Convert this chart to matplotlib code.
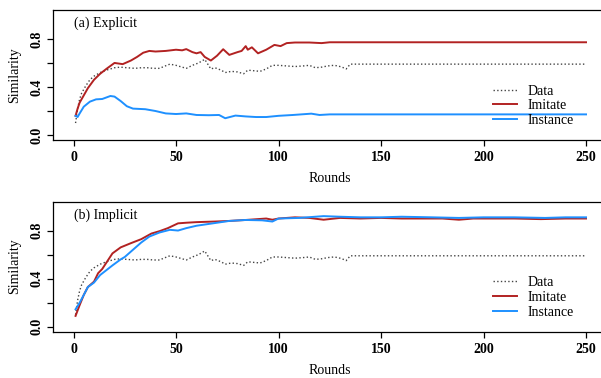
import matplotlib
matplotlib.use("Agg")
import matplotlib.pyplot as plt

plt.rcParams['font.family'] = ['Liberation Serif', 'DejaVu Serif']

# Data curve (same in both panels)
data_rounds = [1, 2, 3, 4, 6, 8, 10, 13, 16, 20, 23, 26, 30, 33, 36, 39, 42, 44, 47, 50,
               52, 55, 58, 61, 64, 67, 69, 72, 74, 77, 80, 83, 85, 88, 91, 94, 97, 100, 104, 108,
               112, 115, 118, 121, 124, 127, 129, 131, 133, 135, 150, 175, 200, 225, 250]
data_vals = [0.10, 0.22, 0.30, 0.35, 0.41, 0.46, 0.49, 0.52, 0.54, 0.56,
             0.565, 0.56, 0.555, 0.56, 0.56, 0.555, 0.555, 0.57, 0.59, 0.58,
             0.57, 0.555, 0.58, 0.60, 0.63, 0.55, 0.56, 0.54, 0.52, 0.53,
             0.525, 0.51, 0.54, 0.535, 0.53, 0.55, 0.58, 0.58, 0.575, 0.57,
             0.575, 0.58, 0.56, 0.565, 0.575, 0.58, 0.575, 0.565, 0.55, 0.59,
             0.59, 0.59, 0.59, 0.59, 0.59]

# (a) Explicit
imit_a_rounds = [1, 2, 3, 5, 7, 10, 13, 16, 20, 24, 28, 31, 34, 37, 40, 45, 50, 53, 55, 58,
                 60, 62, 64, 67, 70, 73, 76, 80, 82, 84, 85, 87, 90, 94, 98, 101, 104, 108, 115, 121,
                 125, 150, 175, 200, 225, 250]
imit_a = [0.16, 0.22, 0.27, 0.33, 0.39, 0.46, 0.51, 0.55, 0.60, 0.59,
          0.62, 0.65, 0.685, 0.70, 0.695, 0.70, 0.71, 0.705, 0.715, 0.69,
          0.68, 0.69, 0.65, 0.62, 0.66, 0.714, 0.667, 0.69, 0.70, 0.74,
          0.71, 0.73, 0.68, 0.71, 0.75, 0.74, 0.765, 0.77, 0.77, 0.765,
          0.772, 0.772, 0.772, 0.772, 0.772, 0.772]
inst_a_rounds = [1, 2, 3, 5, 8, 11, 14, 18, 20, 23, 26, 29, 35, 40, 45, 50, 55, 60, 66, 71,
                 74, 79, 84, 89, 94, 100, 107, 116, 120, 125, 150, 175, 200, 225, 250]
inst_a = [0.16, 0.15, 0.18, 0.236, 0.278, 0.297, 0.30, 0.325, 0.32, 0.283,
          0.24, 0.22, 0.215, 0.20, 0.18, 0.175, 0.18, 0.167, 0.165, 0.167,
          0.14, 0.162, 0.155, 0.15, 0.15, 0.16, 0.167, 0.178, 0.167, 0.172,
          0.172, 0.172, 0.172, 0.172, 0.172]

# (b) Implicit
imit_b_rounds = [1, 3, 5, 7, 10, 12, 14, 19, 23, 28, 33, 38, 42, 46, 51, 55, 60, 69, 76, 84,
                 94, 97, 100, 108, 115, 122, 130, 140, 150, 160, 170, 180, 188, 195, 205, 215, 228, 240, 250]
imit_b = [0.09, 0.18, 0.264, 0.33, 0.375, 0.445, 0.48, 0.61, 0.66, 0.695,
          0.728, 0.775, 0.795, 0.82, 0.86, 0.865, 0.87, 0.875, 0.88, 0.888,
          0.90, 0.89, 0.90, 0.91, 0.905, 0.89, 0.905, 0.90, 0.905, 0.90,
          0.90, 0.90, 0.89, 0.90, 0.90, 0.90, 0.895, 0.90, 0.90]
inst_b_rounds = [1, 3, 5, 7, 10, 13, 16, 19, 23, 25, 29, 33, 37, 42, 47, 51, 55, 60, 68, 76,
                 84, 92, 97, 100, 110, 122, 130, 140, 150, 160, 175, 188, 200, 215, 230, 240, 250]
inst_b = [0.145, 0.20, 0.264, 0.33, 0.367, 0.43, 0.47, 0.51, 0.56, 0.58,
          0.64, 0.70, 0.75, 0.784, 0.806, 0.80, 0.82, 0.84, 0.86, 0.88,
          0.888, 0.885, 0.875, 0.90, 0.905, 0.92, 0.915, 0.91, 0.91, 0.915,
          0.91, 0.905, 0.91, 0.91, 0.905, 0.91, 0.91]

panels = [
    ("(a) Explicit", imit_a_rounds, imit_a, inst_a_rounds, inst_a),
    ("(b) Implicit", imit_b_rounds, imit_b, inst_b_rounds, inst_b),
]

fig = plt.figure(figsize=(6.01, 3.78), dpi=100)
bottoms = [0.630, 0.123]

for (title, ir, iv, sr, sv), b in zip(panels, bottoms):
    ax = fig.add_axes([0.0882, b, 0.921, 0.3434])
    ax.plot(data_rounds, data_vals, ls=':', color='#444444', lw=1.0, label='Data')
    ax.plot(ir, iv, color='#B22222', lw=1.4, label='Imitate')
    ax.plot(sr, sv, color='#1E90FF', lw=1.4, label='Instance')

    ax.set_xlim(-10, 260)
    ax.set_ylim(-0.04, 1.04)
    ax.set_xticks([0, 50, 100, 150, 200, 250])
    ax.set_yticks([0.0, 0.2, 0.4, 0.6, 0.8])
    ax.set_yticklabels(['0.0', '', '0.4', '', '0.8'], rotation=90, va='center')
    ax.tick_params(direction='out', length=4, width=0.9, labelsize=10)
    ax.tick_params(axis='x', pad=4)
    ax.tick_params(axis='y', pad=3)
    for lbl in ax.get_xticklabels() + ax.get_yticklabels():
        lbl.set_fontweight('bold')
    for s in ax.spines.values():
        s.set_linewidth(0.9)
    ax.spines['right'].set_visible(False)

    ax.set_ylabel('Similarity', fontsize=10, va='center')
    ax.yaxis.set_label_coords(-0.069, 0.5)
    ax.set_xlabel('Rounds', fontsize=10, va='center')
    ax.xaxis.set_label_coords(0.5, -0.30)

    ax.text(0, 0.93, title, fontsize=10, va='center', ha='left')

    ax.legend(loc='center left', bbox_to_anchor=(0.795, 0.263), frameon=False,
              fontsize=10, handlelength=1.7, handletextpad=0.8,
              labelspacing=0.12, borderpad=0, borderaxespad=0)

fig.savefig('out.png', dpi=100)
